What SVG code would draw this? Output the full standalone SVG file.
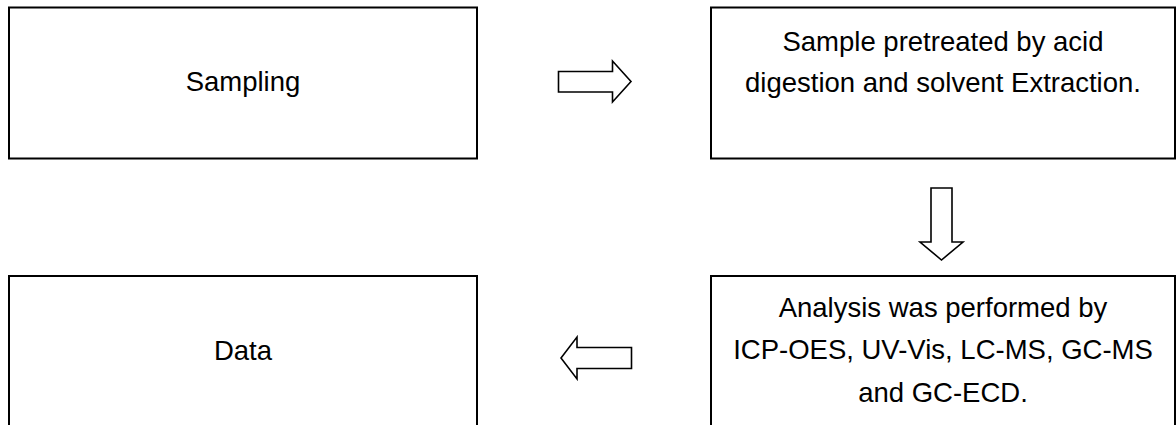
<svg xmlns="http://www.w3.org/2000/svg" width="1176" height="425" viewBox="0 0 1176 425">
  <style>
    .box { fill: #ffffff; stroke: #000000; stroke-width: 2; }
    .arrow { fill: #ffffff; stroke: #000000; stroke-width: 1.6; stroke-linejoin: miter; }
    .label { font-family: "Liberation Sans", Arial, sans-serif; font-size: 27.5px; fill: #000000; text-anchor: middle; }
  </style>
  <rect x="0" y="0" width="1176" height="425" fill="#ffffff"/>
  <g id="node-sampling">
    <rect class="box" x="9" y="7.5" width="468" height="151"/>
    <text class="label" x="243" y="91">Sampling</text>
  </g>
  <g id="node-pretreatment">
    <rect class="box" x="711" y="7.5" width="464" height="151"/>
    <text class="label" x="943" y="51">Sample pretreated by acid</text>
    <text class="label" x="943" y="92">digestion and solvent Extraction.</text>
  </g>
  <g id="node-data">
    <rect class="box" x="9" y="276" width="468" height="160"/>
    <text class="label" x="243" y="359.5">Data</text>
  </g>
  <g id="node-analysis">
    <rect class="box" x="711" y="276" width="464" height="160"/>
    <text class="label" x="943" y="317">Analysis was performed by</text>
    <text class="label" x="943" y="358.5">ICP-OES, UV-Vis, LC-MS, GC-MS</text>
    <text class="label" x="943" y="401.5">and GC-ECD.</text>
  </g>
  <g id="connectors">
    <polygon class="arrow" points="558.5,71.5 612.5,71.5 612.5,61 631,81.5 612.5,102 612.5,92 558.5,92"/>
    <polygon class="arrow" points="931,188 952,188 952,242 963,242 941.5,260 920,242 931,242"/>
    <polygon class="arrow" points="631.5,347.5 577,347.5 577,337 561,358 577,379 577,368.5 631.5,368.5"/>
  </g>
</svg>
